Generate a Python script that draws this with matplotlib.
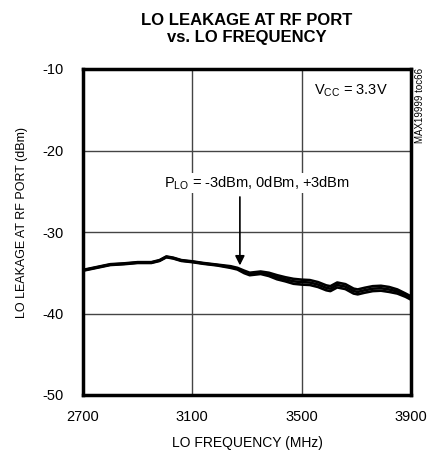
import matplotlib
matplotlib.use("Agg")
import matplotlib.pyplot as plt

plt.rcParams['font.family'] = ['Liberation Sans Narrow', 'Liberation Sans', 'DejaVu Sans']
plt.rcParams['mathtext.default'] = 'regular'
plt.rcParams['axes.unicode_minus'] = False

# LO frequency (MHz)
freq = [2700, 2750, 2800, 2850, 2900, 2950, 2980, 3005, 3030, 3060, 3100, 3140,
        3190, 3240, 3265, 3290, 3310, 3350, 3380, 3410, 3440, 3470, 3500, 3530,
        3560, 3590, 3605, 3630, 3660, 3690, 3705, 3730, 3760, 3790, 3820, 3850,
        3880, 3900]

# LO leakage (dBm) for the three LO drive levels
leak_p3 = [-34.65, -34.3, -33.95, -33.85, -33.7, -33.7, -33.45, -33.0, -33.15, -33.45,
           -33.6, -33.8, -34.0, -34.2, -34.4, -34.75, -35.0, -34.85, -35.0, -35.3,
           -35.55, -35.75, -35.85, -35.9, -36.15, -36.55, -36.65, -36.2, -36.4, -36.95,
           -37.05, -36.85, -36.65, -36.6, -36.75, -37.05, -37.55, -37.9]
leak_0 = [-34.7, -34.35, -34.0, -33.9, -33.75, -33.75, -33.5, -33.05, -33.2, -33.5,
          -33.65, -33.85, -34.05, -34.3, -34.5, -34.9, -35.15, -35.0, -35.2, -35.55,
          -35.8, -36.05, -36.15, -36.2, -36.45, -36.85, -36.95, -36.5, -36.7, -37.25,
          -37.35, -37.15, -36.95, -36.9, -37.05, -37.3, -37.75, -38.1]
leak_m3 = [-34.75, -34.4, -34.05, -33.95, -33.8, -33.8, -33.55, -33.1, -33.25, -33.55,
           -33.7, -33.9, -34.1, -34.4, -34.6, -35.05, -35.3, -35.15, -35.4, -35.8,
           -36.05, -36.35, -36.45, -36.5, -36.75, -37.15, -37.25, -36.8, -37.0, -37.55,
           -37.65, -37.45, -37.25, -37.2, -37.35, -37.55, -37.95, -38.3]

xticks = [2700, 3100, 3500, 3900]
yticks = [-50, -40, -30, -20, -10]

fig = plt.figure(figsize=(4.28, 4.54), dpi=100)
ax = fig.add_axes([83 / 428, 59 / 454, 328 / 428, 326 / 454])

for series in (leak_p3, leak_0, leak_m3):
    ax.plot(freq, series, color="black", lw=1.9, zorder=3)

ax.set_xlim(2700, 3900)
ax.set_ylim(-50, -10)
ax.set_xticks(xticks)
ax.set_yticks(yticks)
ax.grid(True, color="#444444", lw=1.0)
ax.tick_params(length=0, labelsize=10.5)
ax.tick_params(axis="y", pad=14)
ax.tick_params(axis="x", pad=11)
for sp in ax.spines.values():
    sp.set_linewidth(2.5)

ax.set_xlabel("LO FREQUENCY (MHz)", fontsize=10)
ax.xaxis.set_label_coords(0.5, -(436 - 395) / 326)
ax.set_ylabel("LO LEAKAGE AT RF PORT (dBm)", fontsize=9)
ax.yaxis.set_label_coords((28 - 83) / 328, (395 - 222) / 326)

fig.text(247 / 428, 1 - 29 / 454, "LO LEAKAGE AT RF PORT\nvs. LO FREQUENCY",
         ha="center", va="center", fontsize=12, fontweight="bold", linespacing=1.15)

ax.text(3816, -12.7, "V$_{CC}$ = 3.3V", ha="right", va="center", fontsize=10.5)
ax.text(3338, -24.0, "P$_{LO}$ = -3dBm, 0dBm, +3dBm", ha="center", va="center",
        fontsize=10.5, zorder=4,
        bbox=dict(facecolor="white", edgecolor="none", pad=1))
ax.annotate("", xy=(3274, -34.1), xytext=(3274, -25.7),
            arrowprops=dict(arrowstyle="-|>", color="black", lw=1.2,
                            mutation_scale=14, shrinkA=0, shrinkB=0), zorder=5)

fig.text(420 / 428, 1 - 68 / 454, "MAX19999 toc66", rotation=90,
         ha="center", va="top", fontsize=7)

fig.savefig("out.png", dpi=100)
